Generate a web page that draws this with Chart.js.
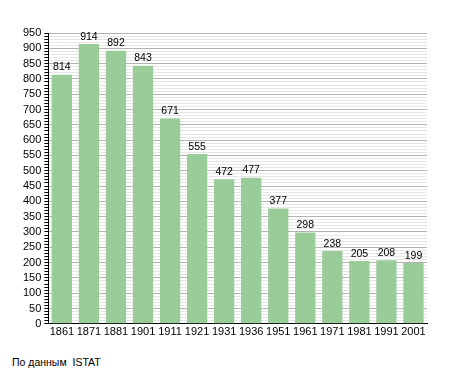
<!DOCTYPE html>
<html>
<head>
<meta charset="utf-8">
<script src="https://cdn.jsdelivr.net/npm/chart.js@4/dist/chart.umd.min.js"></script>
<style>
    body { margin: 0; background: #fff; }
    #wrap { position: relative; width: 455px; height: 373px; }
    #note {
        position: absolute; left: 12px; top: 356px;
        font: 10.5px "Liberation Sans", Arial, sans-serif; color: #000;
    }
</style>
</head>
<body>
<div id="wrap">
    <canvas id="barChart" width="455" height="341"></canvas>
    <div id="note">По данным&nbsp; ISTAT</div>
</div>
<script>
const years = ["1861", "1871", "1881", "1901", "1911", "1921", "1931",
               "1936", "1951", "1961", "1971", "1981", "1991", "2001"];
const population = [814, 914, 892, 843, 671, 555, 472, 477, 377, 298, 238, 205, 208, 199];

const FONT = "'Liberation Sans', Arial, sans-serif";

// values over the bars
const valueLabels = {
    id: "valueLabels",
    afterDatasetsDraw(chart) {
        const ctx = chart.ctx;
        const meta = chart.getDatasetMeta(0);
        ctx.save();
        ctx.font = "10.5px " + FONT;
        ctx.fillStyle = "#000";
        ctx.textAlign = "center";
        ctx.textBaseline = "bottom";
        meta.data.forEach((bar, i) => {
            ctx.fillText(population[i], bar.x, bar.y - 2);
        });
        ctx.restore();
    }
};

new Chart(document.getElementById("barChart"), {
    type: "bar",
    data: {
        labels: years,
        datasets: [{
            data: population,
            backgroundColor: "#99cc99",
            borderWidth: 0,
            barPercentage: 0.75,
            categoryPercentage: 1
        }]
    },
    options: {
        responsive: false,
        animation: false,
        layout: {
            padding: { left: 20, right: 28, top: 33, bottom: 0 }
        },
        plugins: {
            legend: { display: false },
            tooltip: { enabled: false }
        },
        scales: {
            x: {
                grid: { display: false, drawTicks: false },
                border: { color: "#000", width: 1 },
                ticks: { color: "#000", font: { size: 11, family: FONT }, maxRotation: 0, autoSkip: false, padding: 2 }
            },
            y: {
                min: 0,
                max: 950,
                border: { color: "#000", width: 1 },
                grid: {
                    color: c => (c.tick && c.tick.value % 50 === 0) ? "#b4b4b4" : "#e6e6e6",
                    tickColor: "#000",
                    tickLength: 4
                },
                ticks: {
                    stepSize: 10,
                    autoSkip: false,
                    color: "#000",
                    font: { size: 11, family: FONT },
                    padding: 3,
                    callback: v => (v % 50 === 0 ? v : "")
                }
            }
        }
    },
    plugins: [valueLabels]
});
</script>
</body>
</html>
